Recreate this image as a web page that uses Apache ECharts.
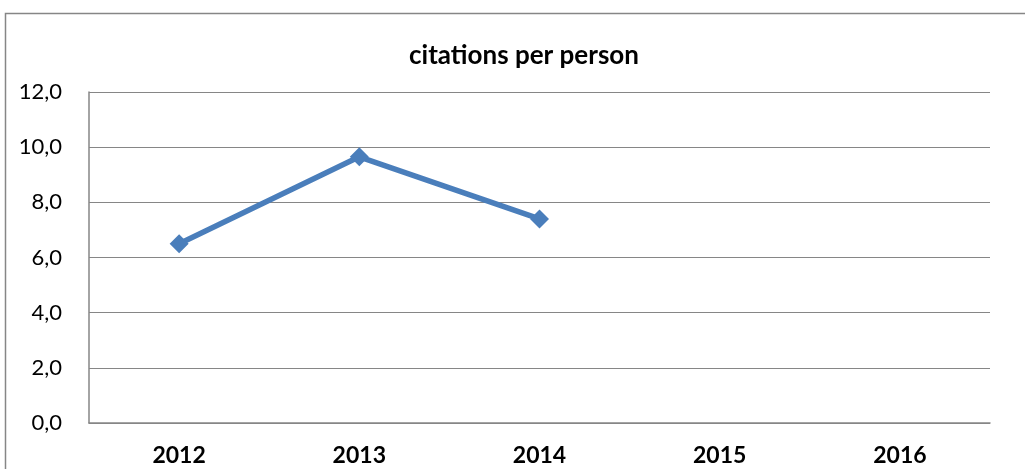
<!DOCTYPE html>
<html><head><meta charset="utf-8">
<script src="https://cdn.jsdelivr.net/npm/echarts@6/dist/echarts.min.js"></script>
<style>html,body{margin:0;padding:0;background:#fff}#c{width:1025px;height:469px}</style>
</head><body><div id="c"></div>
<script>
const title = 'citations per person';
const categories = ['2012','2013','2014','2015','2016'];
const values = [6.5, 9.65, 7.4, null, null];
const yTicks = {min:0, max:12, interval:2};

const chart = echarts.init(document.getElementById('c'));
chart.setOption({
  backgroundColor:'#fff',
  animation:false,
  title:{text:title,left:404,top:38,textStyle:{fontFamily:'Lato',fontWeight:'bold',fontSize:26,color:'#000'}},
  graphic:[{type:'rect',shape:{x:5.5,y:13.5,width:1030,height:470},style:{fill:'none',stroke:'#868686',lineWidth:1.5},silent:true}],
  grid:{left:89,right:35,top:92,bottom:46},
  xAxis:{type:'category',data:categories,boundaryGap:true,
    axisLine:{lineStyle:{color:'#868686',width:1.5}},axisTick:{show:false},
    axisLabel:{fontFamily:'Lato',fontWeight:'bold',fontSize:23,color:'#000',margin:21}},
  yAxis:{type:'value',min:yTicks.min,max:yTicks.max,interval:yTicks.interval,
    axisLine:{show:true,lineStyle:{color:'#868686',width:1.5}},axisTick:{show:false},
    splitLine:{lineStyle:{color:'#868686',width:1.2}},
    axisLabel:{fontFamily:'Lato',fontSize:22,color:'#000',margin:27,formatter:v=>v.toFixed(1).replace('.',',')}},
  series:[{type:'line',data:values,connectNulls:false,
    lineStyle:{color:'#4a7ebb',width:5.5},itemStyle:{color:'#4a7ebb'},
    symbol:'diamond',symbolSize:19,showAllSymbol:true}]
});
</script></body></html>
